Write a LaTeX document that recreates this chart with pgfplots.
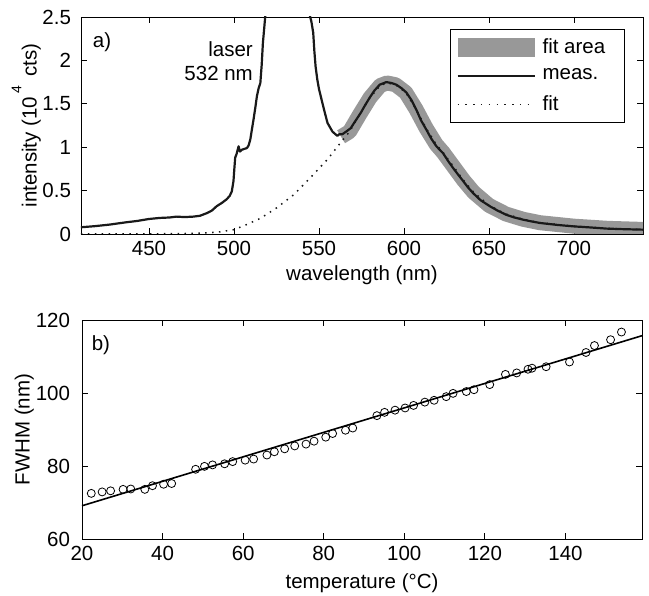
\documentclass[border=0pt]{standalone}
\usepackage{fontspec}
\setmainfont{Liberation Sans}
\usepackage{pgfplots}
\pgfplotsset{compat=1.18}
\definecolor{fitgray}{RGB}{152,152,152}
\definecolor{measc}{RGB}{25,25,25}
\begin{document}
\fontsize{20.5bp}{24bp}\selectfont
\begin{tikzpicture}
\useasboundingbox (-82bp,-57bp) rectangle (567bp,539bp);
\pgfplotsset{
  every axis/.append style={
    scale only axis,
    /pgf/number format/assume math mode=true,
    tick align=inside,
    major tick length=6bp,
    axis line style={line width=0.8bp},
    every tick/.style={line width=0.8bp, black},
    font=\fontsize{20.5bp}{24bp}\selectfont,
  }
}
% ---------------- top panel ----------------
\begin{axis}[
  at={(-1bp,305bp)}, anchor=south west,
  width=562bp, height=217bp,
  xmin=410, xmax=740.6, ymin=0, ymax=2.5,
  xtick={450,500,550,600,650,700},
  ytick={0,0.5,1,1.5,2,2.5},
  yticklabels={0,0.5,1,1.5,2,2.5},
  xlabel={wavelength (nm)},
  ylabel={intensity (10\,\raisebox{0.75em}{\fontsize{14bp}{14bp}\selectfont 4}\, cts)},
  xlabel style={at={(axis description cs:0.5,-0.143)}, anchor=north, inner sep=0pt},
  ylabel style={at={(axis description cs:-0.071,0.5)}, anchor=south, inner sep=0pt},
  yticklabel style={xshift=-3bp},
  legend style={at={(axis description cs:0.6566,0.9447)}, anchor=north west,
    draw=black, line width=0.8bp, inner xsep=6bp, inner ysep=8bp,
    row sep=9bp, column sep=6bp,
    nodes={inner sep=1bp},
    cells={anchor=west}, font=\fontsize{20.5bp}{24bp}\selectfont},
]
\addplot[fitgray, line width=15bp, line join=round,
  legend image code/.code={\path[fill=fitgray, draw=none] (0bp,-9.5bp) rectangle (77bp,9.5bp);}]
 coordinates {
 (563,1.12) (568,1.18) (574,1.38) (580,1.57) (586,1.71) (590,1.74) (595,1.72)
 (601,1.63) (607,1.44) (613,1.22) (619,1.03) (623,0.94) (629,0.78) (635,0.62)
 (641,0.48) (650,0.33) (660,0.23) (670,0.17) (680,0.13) (700,0.09) (720,0.065) (745,0.05)
 };
\addlegendentry{fit area\rule{12bp}{0pt}}
\addplot[measc, line width=2.2bp, line join=round,
  legend image code/.code={\path[draw=none, fill=none] (0bp,-9.5bp) rectangle (77bp,9.5bp);
    \draw[measc, line width=2.2bp] (0bp,0bp) -- (77bp,0bp);}]
 coordinates {
 (409.6,0.077) (418,0.09) (426.7,0.108) (436.6,0.135) (443,0.15) (450,0.173)
 (456.3,0.185) (462,0.19) (466.2,0.2) (471,0.195) (476,0.2) (480,0.21) (484,0.24)
 (487,0.27) (489.8,0.32) (493,0.36) (495.7,0.40) (497.5,0.44) (498.7,0.49)
 (499.7,0.61) (500.2,0.75) (500.7,0.88) (501.5,0.92) (502.7,1.01) (503.5,0.95)
 (504.6,0.97) (506,0.98) (507.6,0.99) (508.6,1.02) (509.6,1.09) (510.5,1.2)
 (511.5,1.32) (512.5,1.45) (513.5,1.59) (514.5,1.68) (515.5,1.74) (516.3,1.95)
 (517,2.2) (518.4,2.51) (519.5,2.9)
 (543.5,2.9) (544.7,2.51) (545.5,2.45) (546.6,2.32) (547.3,2.1) (548,1.93)
 (549,1.78) (550,1.67) (551.5,1.55) (553,1.43) (555,1.28) (557.9,1.18)
 (560.8,1.13) (562,1.15) (563.8,1.15) (566,1.18) (568.7,1.22) (571,1.29)
 (574.7,1.40) (577,1.48) (579.8,1.57) (582.5,1.65) (585.7,1.72) (589.6,1.75)
 (592.5,1.74) (595.5,1.72) (598.5,1.68) (601.4,1.63) (604.5,1.54) (607.3,1.43)
 (610,1.31) (613.2,1.20) (616,1.10) (619.1,1.01) (623,0.93) (626,0.84)
 (628.9,0.76) (632,0.68) (634.8,0.61) (637.5,0.54) (640.7,0.47) (645,0.39)
 (650.5,0.32) (655,0.27) (660.3,0.22) (665,0.19) (670.1,0.165) (675,0.145)
 (680,0.127) (690,0.105) (699.6,0.088) (710,0.075) (719.2,0.062) (730,0.055) (740.6,0.05)
 };
\addlegendentry{meas.}
\addplot[measc, line width=1.5bp, dash pattern=on 1.5bp off 5.4bp,
  legend image code/.code={\path[draw=none, fill=none] (0bp,-9.5bp) rectangle (77bp,9.5bp);
    \draw[measc, line width=1.5bp, dash pattern=on 1.5bp off 6.3bp] (0bp,0bp) -- (73bp,0bp);}]
 coordinates {
 (410,0.0) (430,0.001) (450,0.002) (470,0.005) (480,0.01) (490,0.02) (500,0.05)
 (507.6,0.11) (515.5,0.18) (525,0.30) (535,0.45) (545,0.65) (555,0.86) (561,1.01)
 (568,1.18) (574,1.38) (580,1.57) (586,1.71) (590,1.74) (595,1.72) (601,1.63)
 (607,1.44) (613,1.22) (619,1.03) (623,0.94) (629,0.78) (635,0.62) (641,0.48)
 (650,0.33) (660,0.23) (670,0.17) (680,0.13) (700,0.09) (720,0.065) (740.6,0.05)
 };
\addlegendentry{fit}
\node[anchor=center, inner sep=0pt] at (axis cs:422.4,2.21) {a)};
\node[anchor=east, align=right, inner sep=0pt, font=\fontsize{20.5bp}{24.5bp}\selectfont]
  at (axis cs:511.2,1.99) {laser\\532 nm};
\end{axis}
% ---------------- bottom panel ----------------
\begin{axis}[
  at={(0bp,0bp)}, anchor=south west,
  width=560bp, height=219bp,
  xmin=20, xmax=159, ymin=60, ymax=120,
  xtick={20,40,60,80,100,120,140},
  ytick={60,80,100,120},
  xlabel={temperature (°C)},
  ylabel={FWHM (nm)},
  xlabel style={at={(axis description cs:0.5,-0.155)}, anchor=north, inner sep=0pt},
  ylabel style={at={(axis description cs:-0.0857,0.5)}, anchor=south, inner sep=0pt},
  yticklabel style={xshift=-5bp},
]
\addplot[black, line width=1.6bp] coordinates {(20,69.1) (159,115.7)};
\addplot[only marks, mark=o, mark size=4bp, black, mark options={line width=0.8bp, fill=none}]
 coordinates {
 (22.3,72.5) (25,72.9) (27.1,73.2) (30.2,73.6) (32.1,73.7) (35.6,73.6) (37.5,74.6)
 (40.25,75.0) (42.25,75.2) (48.2,79.1) (50.4,79.9) (52.4,80.3) (55.4,80.6)
 (57.4,81.2) (60.5,81.6) (62.6,81.9) (65.9,83.0) (67.75,83.9) (70.3,84.7)
 (72.8,85.5) (75.6,86.0) (77.6,86.8) (80.5,87.9) (82.2,88.9) (85.4,89.8)
 (87.2,90.4) (93.2,93.8) (95.1,94.7) (97.7,95.3) (100.2,95.9) (102.3,96.6)
 (105.1,97.5) (107.4,98.0) (110.4,99.0) (112.1,99.9) (115.4,100.4) (117.3,100.9)
 (121.2,102.3) (125.1,105.1) (127.9,105.5) (130.7,106.5) (131.7,106.8)
 (135.2,107.2) (141.0,108.5) (145.1,111.1) (147.2,113.0) (151.2,114.6) (153.9,116.7)
 };
\node[anchor=center, inner sep=0pt] at (axis cs:24.7,113.2) {b)};
\end{axis}
\end{tikzpicture}
\end{document}
